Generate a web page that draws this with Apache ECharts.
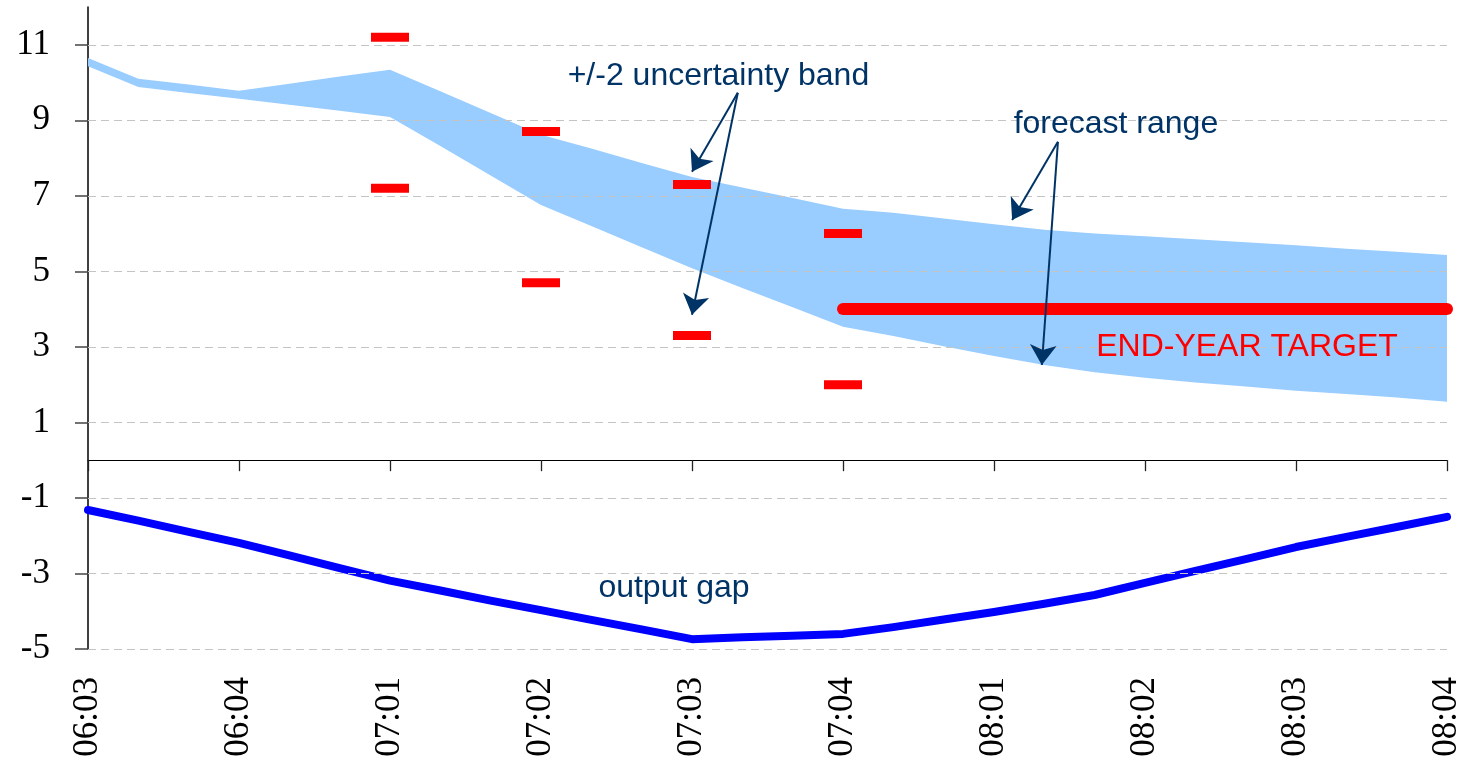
<!DOCTYPE html>
<html>
<head>
<meta charset="utf-8">
<script src="https://cdn.jsdelivr.net/npm/echarts@6/dist/echarts.min.js"></script>
<style>
html,body{margin:0;padding:0;background:#fff;}
#chart{width:1457px;height:762px;}
</style>
</head>
<body>
<div id="chart"></div>
<script>
// ---- data (monthly points, quarter labels every 3rd month) ----
const quarterLabels = ['06:03','06:04','07:01','07:02','07:03','07:04','08:01','08:02','08:03','08:04'];
const bandUpper = [10.65,10.10,9.95,9.78,9.97,10.16,10.34,9.77,9.19,8.62,8.25,7.87,7.50,7.22,6.94,6.66,6.55,6.40,6.25,6.10,6.00,5.93,5.85,5.77,5.69,5.60,5.52,5.43];
const bandLower = [10.43,9.88,9.72,9.57,9.41,9.25,9.09,8.32,7.54,6.76,6.20,5.64,5.08,4.56,4.05,3.53,3.29,3.02,2.76,2.52,2.33,2.18,2.06,1.95,1.84,1.75,1.66,1.55];
const outputGap = [-1.32,-1.60,-1.90,-2.19,-2.52,-2.86,-3.19,-3.45,-3.72,-3.97,-4.23,-4.48,-4.74,-4.69,-4.65,-4.60,-4.42,-4.22,-4.02,-3.80,-3.57,-3.25,-2.93,-2.62,-2.30,-2.03,-1.77,-1.50];
const dashQuarters = ['07:01','07:02','07:03','07:04'];
const dashHigh = [11.2, 8.7, 7.3, 6.0];
const dashLow  = [7.2, 4.7, 3.3, 2.0];
const targetQuarters = ['07:04','08:04'];
const targetValue = [4, 4];
const yTicks = [-5,-3,-1,1,3,5,7,9,11];

const MONTHS_PER_Q = 3;
const qIdx = q => quarterLabels.indexOf(q) * MONTHS_PER_Q;
const lastIdx = (quarterLabels.length - 1) * MONTHS_PER_Q;

const bandData = bandUpper.map((v,i)=>[i, bandLower[i], v]);
const gapData = outputGap.map((v,i)=>[i,v]);
const dashData = [];
dashQuarters.forEach((q,k)=>{ dashData.push([qIdx(q), dashHigh[k]]); dashData.push([qIdx(q), dashLow[k]]); });
const targetData = targetQuarters.map((q,k)=>[qIdx(q), targetValue[k]]);

const NAVY = '#003366';
const annFont = {fontFamily:'Liberation Sans, Arial, sans-serif', fontSize:32};

const chart = echarts.init(document.getElementById('chart'), null, {renderer:'canvas'});
chart.setOption({
  animation:false,
  backgroundColor:'#ffffff',
  grid:{left:88, right:10, top:7, bottom:113, containLabel:false, outerBoundsMode:'none'},
  xAxis:[{
    type:'value', min:0, max:lastIdx, interval:MONTHS_PER_Q,
    axisLine:{show:true, onZero:true, lineStyle:{color:'#000', width:1.2}},
    axisTick:{show:true, length:11, lineStyle:{color:'#222', width:1.3}},
    axisLabel:{show:false},
    splitLine:{show:false}
  },{
    type:'value', min:0, max:lastIdx, interval:MONTHS_PER_Q, position:'bottom',
    axisLine:{show:false, onZero:false},
    axisTick:{show:false},
    splitLine:{show:false},
    axisLabel:{
      show:true, rotate:90, margin:28, color:'#000',
      fontFamily:'Liberation Serif, Times New Roman, serif', fontSize:35,
      formatter:v=>quarterLabels[Math.round(v/MONTHS_PER_Q)] || ''
    }
  }],
  yAxis:{
    type:'value', min:-5, max:12,
    axisLine:{show:true, lineStyle:{color:'#000', width:1.5}},
    axisTick:{show:true, customValues:yTicks, length:13, lineStyle:{color:'#444', width:1.5}},
    axisLabel:{show:true, customValues:yTicks, margin:38, color:'#000',
      fontFamily:'Liberation Serif, Times New Roman, serif', fontSize:35},
    splitLine:{show:false}
  },
  series:[
    { // gridlines
      type:'line', data:[], z:0, silent:true,
      markLine:{silent:true, symbol:['none','none'], label:{show:false},
        lineStyle:{color:'#c4c4c4', type:[8,5], width:1},
        data:yTicks.map(v=>({yAxis:v}))}
    },
    { // forecast band (polygon between lower and upper)
      name:'band', type:'custom', data:[0], z:1, silent:true,
      renderItem:(params, api)=>{
        const top = bandData.map(d=>api.coord([d[0], d[2]]));
        const bot = bandData.slice().reverse().map(d=>api.coord([d[0], d[1]]));
        return {type:'polygon', shape:{points:top.concat(bot)}, style:{fill:'#99CCFF'}};
      }
    },
    {
      name:'dashes', type:'scatter', data:dashData, symbol:'rect', symbolSize:[38,9],
      itemStyle:{color:'#FF0000', opacity:1}, z:3
    },
    {
      name:'target', type:'line', data:targetData, symbol:'none',
      lineStyle:{color:'#FF0000', width:12, cap:'round'}, z:4
    },
    {
      name:'output gap', type:'line', data:gapData, symbol:'none',
      lineStyle:{color:'#0000FF', width:8, cap:'round', join:'round'}, z:4
    },
    { // annotations
      type:'line', data:[], z:6, silent:true,
      markLine:{silent:true, symbol:['none','arrow'], symbolSize:20, label:{show:false},
        lineStyle:{color:NAVY, width:2, type:'solid'},
        data:[
          [{coord:[12.91,9.73]},{coord:[12.0,7.64]}],
          [{coord:[12.91,9.73]},{coord:[12.0,3.85]}],
          [{coord:[19.27,8.43]},{coord:[18.36,6.36]}],
          [{coord:[19.27,8.43]},{coord:[18.95,2.52]}]
        ]},
      markPoint:{silent:true, symbol:'circle', symbolSize:1, itemStyle:{color:'rgba(0,0,0,0)'},
        label:{show:true, position:'right', distance:0, color:NAVY, ...annFont},
        data:[
          {coord:[9.52,10.18], label:{formatter:'+/-2 uncertainty band'}},
          {coord:[18.38,8.91], label:{formatter:'forecast range'}},
          {coord:[10.13,-3.4], label:{formatter:'output gap'}},
          {coord:[20.02,3.0], label:{formatter:'END-YEAR TARGET', color:'#FF0000'}}
        ]}
    }
  ]
});
</script>
</body>
</html>
